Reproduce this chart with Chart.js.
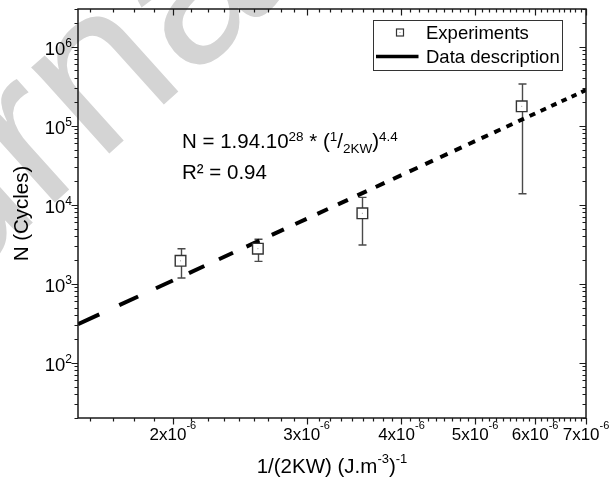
<!DOCTYPE html>
<html>
<head>
<meta charset="utf-8">
<script src="https://cdn.jsdelivr.net/npm/chart.js@4.4.1/dist/chart.umd.min.js"></script>
<style>
  html, body { margin: 0; padding: 0; background: #fff; }
  #c { display: block; background: #fff; }
</style>
</head>
<body>
<canvas id="c" width="611" height="488"></canvas>
<script>
// Inverse strain energy density 1/(2KW) for each test series
const energyInv = [2.047e-6, 2.588e-6, 3.553e-6, 5.76e-6];
// Mean fatigue life and scatter band (cycles)
const cycles     = [1950, 2780, 7790, 176000];
const cyclesLow  = [1180, 1920, 3090, 13800];
const cyclesHigh = [2770, 3650, 12400, 337000];

// Power-law fit N = A * (1/2KW)^B
const fitCoef = 1.94e28;
const fitExp = 4.43;
// The fitted curve is sampled every 0.1e-6; alternate pieces are inked
const fitFromTenths = 15, fitToTenths = 70;

// Axis ranges and labelled ticks
const xMin = 1.5e-6, xMax = 7e-6;
const yMin = 20, yMax = 3e6;
const xLabelMantissas = [2, 3, 4, 5, 6, 7];
const yLabelExponents = [2, 3, 4, 5, 6];

const FONT = '"Liberation Sans", Arial, Helvetica, sans-serif';

const expPoints = energyInv.map((x, i) => ({ x: x, y: cycles[i] }));
const fitPoints = [];
for (let t = fitFromTenths; t <= fitToTenths; t++) {
  const x = t / 10 * 1e-6;
  fitPoints.push({ x: x, y: fitCoef * Math.pow(x, fitExp) });
}

function font(size) { return size + 'px ' + FONT; }

function drawRich(ctx, parts, x, y, align) {
  let w = 0;
  for (const p of parts) { ctx.font = font(p.size); w += ctx.measureText(p.t).width; }
  let cx = align === 'center' ? x - w / 2 : align === 'right' ? x - w : x;
  ctx.textAlign = 'left';
  ctx.textBaseline = 'alphabetic';
  for (const p of parts) {
    ctx.font = font(p.size);
    ctx.fillText(p.t, cx, y + (p.dy || 0));
    cx += ctx.measureText(p.t).width;
  }
}

// Faint diagonal watermark behind the figure
const watermark = {
  id: 'watermark',
  beforeDraw(chart) {
    const ctx = chart.ctx;
    ctx.save();
    ctx.translate(-220, 450);
    ctx.rotate(-42 * Math.PI / 180);
    ctx.fillStyle = '#d4d4d4';
    ctx.font = font(220);
    ctx.textAlign = 'left';
    ctx.textBaseline = 'alphabetic';
    ctx.fillText('Journal Pre-proof', 0, 0);
    ctx.restore();
  }
};

// Vertical scatter bars for each experiment
const errorBars = {
  id: 'errorBars',
  beforeDatasetsDraw(chart) {
    const ctx = chart.ctx, xs = chart.scales.x, ys = chart.scales.y;
    ctx.save();
    ctx.strokeStyle = '#4a4a4a';
    ctx.lineWidth = 1.4;
    energyInv.forEach((x, i) => {
      const px = Math.round(xs.getPixelForValue(x)) + 0.5;
      const top = ys.getPixelForValue(cyclesHigh[i]);
      const bot = ys.getPixelForValue(cyclesLow[i]);
      ctx.beginPath();
      ctx.moveTo(px, top); ctx.lineTo(px, bot);
      ctx.moveTo(px - 4, top); ctx.lineTo(px + 4, top);
      ctx.moveTo(px - 4, bot); ctx.lineTo(px + 4, bot);
      ctx.stroke();
    });
    ctx.restore();
  },
  afterDatasetsDraw(chart) {
    const ctx = chart.ctx, xs = chart.scales.x, ys = chart.scales.y;
    ctx.save();
    ctx.fillStyle = '#9a9a9a';
    energyInv.forEach((x, i) => {
      const px = xs.getPixelForValue(x), py = ys.getPixelForValue(cycles[i]);
      ctx.fillRect(px - 0.5, py - 0.5, 1, 1);
    });
    ctx.restore();
  }
};

// Frame, tick marks and labels for the log-log axes
const frame = {
  id: 'frame',
  afterDraw(chart) {
    const ctx = chart.ctx, xs = chart.scales.x, ys = chart.scales.y;
    const a = chart.chartArea;
    ctx.save();
    ctx.strokeStyle = '#1a1a1a';
    ctx.fillStyle = '#000';
    ctx.lineWidth = 1.5;
    ctx.strokeRect(a.left, a.top, a.right - a.left, a.bottom - a.top);

    const majorLen = 6.5, minorLen = 3.5;
    ctx.lineWidth = 1.2;
    // x ticks: majors at whole multiples of 1e-6, 8 minors between
    const xTicks = [];
    for (let m = 1; m <= 7; m++) {
      xTicks.push({ v: m * 1e-6, major: true });
      for (let k = 1; k <= 8; k++) xTicks.push({ v: (m + k / 9) * 1e-6, major: false });
    }
    ctx.beginPath();
    xTicks.forEach(t => {
      if (t.v < xMin * 0.999 || t.v > xMax * 1.001) return;
      const px = Math.round(xs.getPixelForValue(t.v)) + 0.5;
      const len = t.major ? majorLen : minorLen;
      ctx.moveTo(px, a.bottom); ctx.lineTo(px, a.bottom + len);
      ctx.moveTo(px, a.top); ctx.lineTo(px, a.top + len);
    });
    // y ticks: decades with 2..9 minors
    for (let e = 1; e <= 6; e++) {
      for (let d = 1; d <= 9; d++) {
        const v = d * Math.pow(10, e);
        if (v < yMin * 0.999 || v > yMax * 1.001) continue;
        const py = Math.round(ys.getPixelForValue(v)) + 0.5;
        const len = d === 1 ? majorLen : minorLen;
        ctx.moveTo(a.left, py); ctx.lineTo(a.left - len, py);
        ctx.moveTo(a.right, py); ctx.lineTo(a.right - len, py);
      }
    }
    ctx.stroke();

    // tick labels
    xLabelMantissas.forEach(m => {
      const px = xs.getPixelForValue(m * 1e-6);
      drawRich(ctx, [{ t: m + 'x10', size: 17 }, { t: '-6', size: 11, dy: -11 }], px, a.bottom + 22, 'center');
    });
    yLabelExponents.forEach(e => {
      const py = ys.getPixelForValue(Math.pow(10, e));
      drawRich(ctx, [{ t: '10', size: 18.5 }, { t: String(e), size: 12, dy: -8 }], a.left - 6, py + 8.5, 'right');
    });

    // axis titles
    drawRich(ctx, [
      { t: '1/(2KW) (J.m', size: 20.5 },
      { t: '-3', size: 13, dy: -10 },
      { t: ')', size: 20.5 },
      { t: '-1', size: 13, dy: -10 }
    ], (a.left + a.right) / 2, 473, 'center');
    ctx.save();
    ctx.translate(22.5, (a.top + a.bottom) / 2);
    ctx.rotate(-Math.PI / 2);
    ctx.font = font(20.5);
    ctx.textAlign = 'center';
    ctx.textBaseline = 'middle';
    ctx.fillText('N (Cycles)', 0, 0);
    ctx.restore();

    // fit annotation
    drawRich(ctx, [
      { t: 'N = 1.94.10', size: 20.5 },
      { t: '28', size: 13.5, dy: -7 },
      { t: ' * (', size: 20.5 },
      { t: '1', size: 13.5, dy: -7 },
      { t: '/', size: 20.5 },
      { t: '2KW', size: 13.5, dy: 5 },
      { t: ')', size: 20.5 },
      { t: '4.4', size: 13.5, dy: -7 }
    ], 182, 147.5, 'left');
    drawRich(ctx, [{ t: 'R\u00B2 = 0.94', size: 20.5 }], 182, 178.5, 'left');

    // legend
    const ds = chart.data.datasets;
    ctx.lineWidth = 1;
    ctx.strokeStyle = '#333';
    ctx.fillStyle = '#fff';
    ctx.fillRect(373.5, 20.5, 189, 50);
    ctx.strokeRect(373.5, 20.5, 189, 50);
    ctx.lineWidth = 1.2;
    ctx.strokeRect(396.5, 29, 7, 7);
    ctx.fillStyle = '#9a9a9a';
    ctx.fillRect(399.5, 32, 1, 1);
    ctx.strokeStyle = '#000';
    ctx.lineWidth = 3.5;
    ctx.beginPath();
    ctx.moveTo(376, 56.5); ctx.lineTo(418.5, 56.5);
    ctx.stroke();
    ctx.fillStyle = '#000';
    drawRich(ctx, [{ t: ds[1].label, size: 18.5 }], 426, 39, 'left');
    drawRich(ctx, [{ t: ds[0].label, size: 18.5 }], 426, 63, 'left');
    ctx.restore();
  }
};

new Chart(document.getElementById('c'), {
  type: 'scatter',
  data: {
    datasets: [
      {
        label: 'Data description',
        data: fitPoints,
        showLine: true,
        borderColor: '#000',
        borderWidth: 4,
        borderCapStyle: 'butt',
        pointRadius: 0,
        tension: 0,
        order: 1,
        segment: {
          borderColor: c => (c.p0DataIndex % 2 === 0 ? '#000' : 'rgba(0,0,0,0)')
        }
      },
      {
        label: 'Experiments',
        data: expPoints,
        pointStyle: 'rect',
        pointRadius: 7.5,
        backgroundColor: '#fff',
        borderColor: '#333',
        borderWidth: 1.4,
        order: 0
      }
    ]
  },
  options: {
    responsive: false,
    animation: false,
    devicePixelRatio: 1,
    layout: { padding: { left: 78, right: 25, top: 9, bottom: 70 } },
    plugins: { legend: { display: false }, tooltip: { enabled: false } },
    scales: {
      x: { type: 'logarithmic', min: xMin, max: xMax, display: false },
      y: { type: 'logarithmic', min: yMin, max: yMax, display: false }
    }
  },
  plugins: [watermark, errorBars, frame]
});
</script>
</body>
</html>
